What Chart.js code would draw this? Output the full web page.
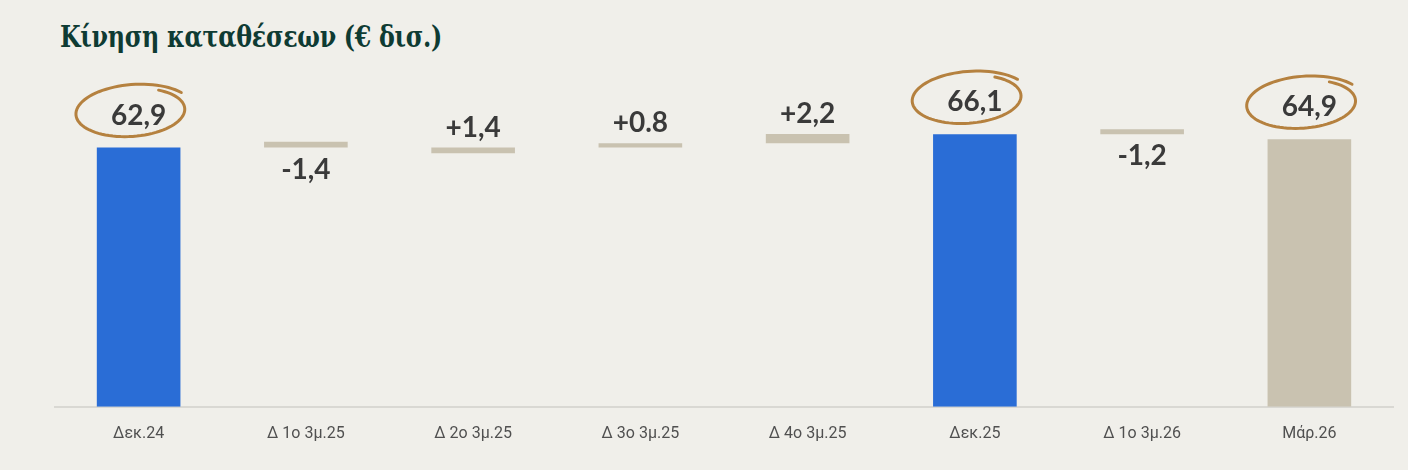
<!DOCTYPE html>
<html>
<head>
<meta charset="utf-8">
<script src="https://cdn.jsdelivr.net/npm/chart.js@4.4.1/dist/chart.umd.min.js"></script>
<style>
  html, body { margin: 0; padding: 0; background: #f0efea; }
  #wrap { position: relative; width: 1408px; height: 470px; }
  #title {
    position: absolute; left: 60px; top: 20px;
    font-family: "DejaVu Serif Condensed", "DejaVu Serif", serif; font-stretch: condensed;
    font-weight: bold; font-size: 29px;
    color: #0e3b33; letter-spacing: -0.3px;
    transform: scaleX(0.91); transform-origin: left top;
    white-space: nowrap;
  }
  canvas { position: absolute; left: 0; top: 0; }
</style>
</head>
<body>
<div id="wrap">
  <div id="title">Κίνηση καταθέσεων (€ δισ.)</div>
  <canvas id="myChart" width="1408" height="470"></canvas>
</div>
<script>
// categories and values
const categories = ['Δεκ.24', 'Δ 1ο 3μ.25', 'Δ 2ο 3μ.25', 'Δ 3ο 3μ.25', 'Δ 4ο 3μ.25', 'Δεκ.25', 'Δ 1ο 3μ.26', 'Μάρ.26'];
const barLow  = [0,    62.9, 61.5, 62.9, 63.9, 0,    66.1, 0];
const barHigh = [62.9, 64.3, 62.9, 63.9, 66.2, 66.1, 67.3, 64.9];
const valueLabels = ['62,9', '-1,4', '+1,4', '+0.8', '+2,2', '66,1', '-1,2', '64,9'];
const circled = [true, false, false, false, false, true, false, true];

const blue = '#2a6dd6';
const beige = '#c9c2b0';
const barColors = [blue, beige, beige, beige, beige, blue, beige, beige];

const labelPlugin = {
    id: 'valueLabels',
    afterDatasetsDraw(chart) {
        const ctx = chart.ctx;
        const meta = chart.getDatasetMeta(0);
        ctx.save();
        ctx.font = 'bold 28px Lato';
        ctx.fillStyle = '#3a3a3a';
        ctx.textAlign = 'center';
        ctx.textBaseline = 'middle';
        meta.data.forEach(function(bar, i) {
            const top = Math.min(bar.y, bar.base);
            const bottom = Math.max(bar.y, bar.base);
            const txt = valueLabels[i];
            let y;
            if (txt.charAt(0) === '-') {
                y = bottom + 22;
            } else if (circled[i]) {
                y = top - 32;
            } else {
                y = top - 20;
            }
            const x = bar.x;
            ctx.fillText(txt, x, y);
            if (circled[i]) {
                // hand drawn looking ring
                const cx = x - 6, cy = y - 4, rx = 57, ry = 26;
                const rot = -0.07;
                ctx.strokeStyle = '#b5813f';
                ctx.lineWidth = 3;
                ctx.lineCap = 'round';
                ctx.beginPath();
                const start = -0.6;
                const steps = 90;
                for (let k = 0; k <= steps; k++) {
                    const t = start - (Math.PI * 2 + 0.4) * k / steps;
                    const s = 1.06 - 0.17 * k / steps;
                    const ex = Math.cos(t) * rx * s;
                    const ey = Math.sin(t) * ry * s;
                    const px = cx + ex * Math.cos(rot) - ey * Math.sin(rot);
                    const py = cy + ex * Math.sin(rot) + ey * Math.cos(rot);
                    if (k === 0) ctx.moveTo(px, py); else ctx.lineTo(px, py);
                }
                ctx.stroke();
            }
        });
        ctx.restore();
    }
};

const ctx = document.getElementById('myChart').getContext('2d');
const myChart = new Chart(ctx, {
    type: 'bar',
    data: {
        labels: categories,
        datasets: [{
            data: barLow.map(function(v, i) { return [v, barHigh[i]]; }),
            backgroundColor: barColors,
            borderWidth: 0,
            borderSkipped: false,
            barPercentage: 0.5,
            categoryPercentage: 1.0
        }]
    },
    options: {
        responsive: false,
        animation: false,
        layout: {
            padding: { left: 55, right: 15, top: 77, bottom: 8 }
        },
        plugins: {
            legend: { display: false },
            tooltip: { enabled: false }
        },
        scales: {
            x: {
                grid: { display: false, drawTicks: false },
                border: { color: '#d9d8d3', width: 2 },
                ticks: {
                    color: '#505050',
                    padding: 18,
                    font: { family: 'Roboto', size: 16 }
                }
            },
            y: {
                display: false,
                min: 0,
                max: 80
            }
        }
    },
    plugins: [labelPlugin]
});
</script>
</body>
</html>
